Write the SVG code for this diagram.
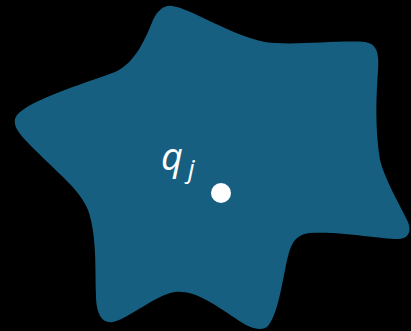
<svg xmlns="http://www.w3.org/2000/svg" width="411" height="331" viewBox="0 0 411 331">
<style>
.blob{fill:#175f80}
.lbl{font-family:"Open Sans","Noto Sans",sans-serif;font-style:italic;font-weight:400;fill:#ffffff}
</style>
<rect width="411" height="331" fill="#000000"/>
<g id="region">
<path class="blob" d="M153,20 C158,10 164,5 172,6 C190,8 230,35 265,42 C290,46 340,40 365,42 C378,44 379,55 378,70 C376,100 375,130 380,160 C385,180 400,205 408,222 C412,232 408,239 398,239 C380,239 340,231 310,233 C292,235 290,248 286,265 C281,290 277,315 268,326 C262,332 250,329 235,318 C215,305 195,290 175,292 C155,295 130,318 113,322 C100,324 96,310 96,295 C95,270 97,235 88,210 C80,190 60,175 35,150 C20,135 10,125 17,115 C30,100 80,85 115,72 C135,63 145,40 153,20 Z"/>
</g>
<g id="point">
<circle cx="221" cy="193" r="10" fill="#ffffff"/>
<text class="lbl" x="161" y="170" font-size="38">q</text>
<text class="lbl" x="188" y="178" font-size="26">j</text>
</g>
</svg>
